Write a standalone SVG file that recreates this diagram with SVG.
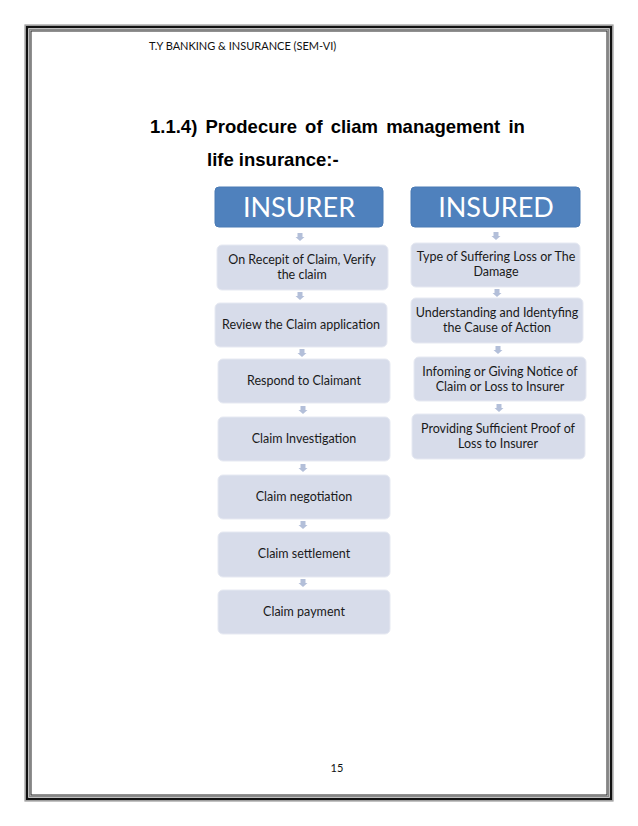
<svg xmlns="http://www.w3.org/2000/svg" width="638" height="826" viewBox="0 0 638 826">
<style>
.hdr{fill:#4f81bd;stroke:#4a7ab4;stroke-width:1}
.box{fill:#d7dcea;stroke:#e6e9f2;stroke-width:1}
.ht{font-family:Lato,"Open Sans",sans-serif;font-size:27px;fill:#ffffff;text-anchor:middle}
.bt{font-family:Lato,"Open Sans",sans-serif;font-size:12.5px;fill:#1a1a1a;text-anchor:middle}
.arr{fill:#b3bfd9}
.title{font-family:"Liberation Sans",Arial,sans-serif;font-weight:bold;font-size:18.5px;fill:#000}
.small{font-family:Lato,"Open Sans",sans-serif;font-size:11px;fill:#111}
</style>
<defs>
<path id="ar" d="M-2.5,-4 h5 v4 h2 l-4.5,4 l-4.5,-4 h2 z"/>
</defs>
<rect width="638" height="826" fill="#ffffff"/>
<g id="border" fill="none">
<rect x="25" y="25" width="588" height="776" stroke="#9a9a9a" stroke-width="1.2"/>
<rect x="27" y="27" width="584" height="772" stroke="#111" stroke-width="2.4"/>
<rect x="29.5" y="29.5" width="579" height="767" stroke="#8a8a8a" stroke-width="1.4"/>
<rect x="31" y="31" width="576" height="764" stroke="#222" stroke-width="1"/>
</g>
<text class="small" x="149" y="50">T.Y BANKING &amp; INSURANCE (SEM-VI)</text>
<text class="title" x="150" y="133" word-spacing="3">1.1.4) Prodecure of cliam management in</text>
<text class="title" x="207" y="166">life insurance:-</text>
<text class="small" x="337" y="772" text-anchor="middle">15</text>
<g id="connectors">
<use href="#ar" class="arr" x="300" y="237"/>
<use href="#ar" class="arr" x="300" y="296"/>
<use href="#ar" class="arr" x="302" y="353"/>
<use href="#ar" class="arr" x="303" y="410"/>
<use href="#ar" class="arr" x="303" y="468"/>
<use href="#ar" class="arr" x="303" y="525"/>
<use href="#ar" class="arr" x="303" y="583"/>
<use href="#ar" class="arr" x="496" y="236"/>
<use href="#ar" class="arr" x="497" y="293"/>
<use href="#ar" class="arr" x="498" y="350"/>
<use href="#ar" class="arr" x="499" y="408"/>
</g>
<g id="insurer"><rect class="hdr" x="215" y="187" width="168" height="40" rx="4"/><text class="ht" x="299" y="217">INSURER</text></g>
<g id="l1"><rect class="box" x="217" y="245" width="171" height="45" rx="5"/><text class="bt" x="302" y="264">On Recepit  of Claim, Verify</text><text class="bt" x="302" y="279">the claim</text></g>
<g id="l2"><rect class="box" x="215" y="303" width="172" height="44" rx="5"/><text class="bt" x="301" y="329">Review the Claim application</text></g>
<g id="l3"><rect class="box" x="218" y="359" width="172" height="44" rx="5"/><text class="bt" x="304" y="385">Respond to Claimant</text></g>
<g id="l4"><rect class="box" x="218" y="417" width="172" height="44" rx="5"/><text class="bt" x="304" y="443">Claim Investigation</text></g>
<g id="l5"><rect class="box" x="218" y="475" width="172" height="44" rx="5"/><text class="bt" x="304" y="501">Claim negotiation</text></g>
<g id="l6"><rect class="box" x="218" y="532" width="172" height="45" rx="5"/><text class="bt" x="304" y="558">Claim settlement</text></g>
<g id="l7"><rect class="box" x="218" y="590" width="172" height="44" rx="5"/><text class="bt" x="304" y="616">Claim payment</text></g>
<g id="insured"><rect class="hdr" x="411" y="187" width="169" height="40" rx="4"/><text class="ht" x="496" y="217">INSURED</text></g>
<g id="r1"><rect class="box" x="411" y="243" width="169" height="44" rx="5"/><text class="bt" x="496" y="261">Type of Suffering Loss or The</text><text class="bt" x="496" y="276">Damage</text></g>
<g id="r2"><rect class="box" x="411" y="298" width="172" height="45" rx="5"/><text class="bt" x="497" y="317">Understanding and Identyfing</text><text class="bt" x="497" y="332">the Cause of Action</text></g>
<g id="r3"><rect class="box" x="414" y="357" width="172" height="44" rx="5"/><text class="bt" x="500" y="376">Infoming or Giving Notice of</text><text class="bt" x="500" y="391">Claim or Loss to Insurer</text></g>
<g id="r4"><rect class="box" x="412" y="414" width="173" height="45" rx="5"/><text class="bt" x="498" y="433">Providing Sufficient  Proof of</text><text class="bt" x="498" y="448">Loss to Insurer</text></g>
</svg>
